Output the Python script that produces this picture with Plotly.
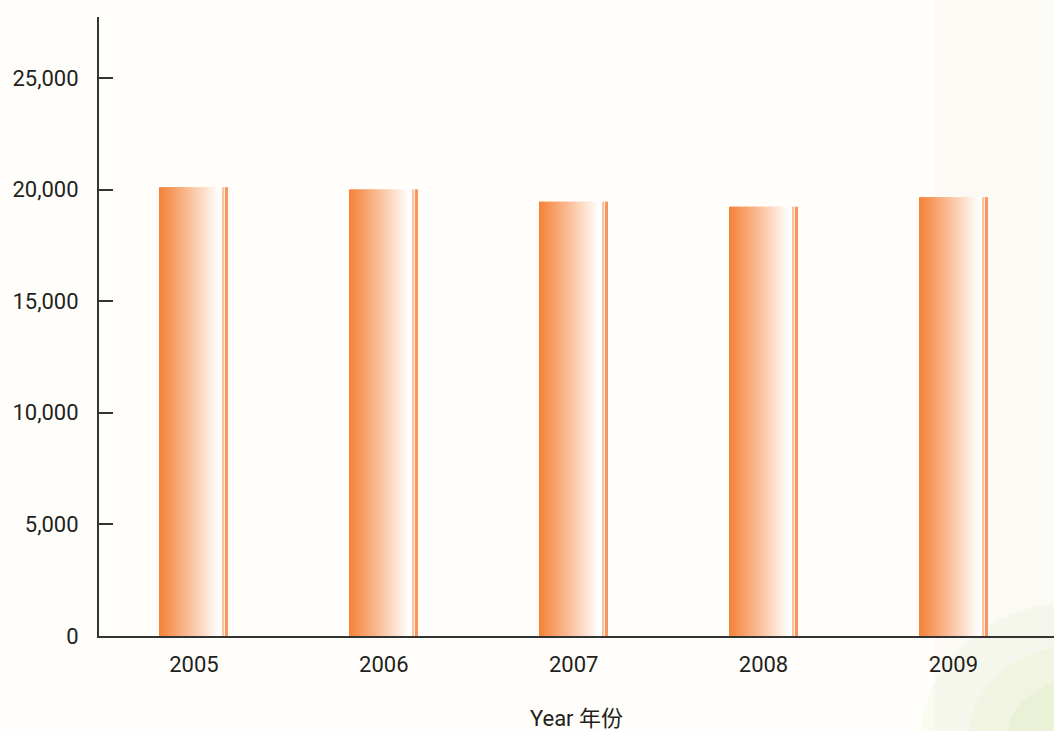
import plotly.graph_objects as go

years = ["2005", "2006", "2007", "2008", "2009"]
values = [20100, 20000, 19450, 19230, 19650]
y_ticks = [0, 5000, 10000, 15000, 20000, 25000]
x_title = "Year 年份"

fig = go.Figure()

# horizontal gradient built from thin strips of the same bar
N = 68
bar_w = 0.358
strip = bar_w / N
orange = (245, 130, 56)
white = (255, 255, 255)


def mix(c1, c2, t):
    return "rgb(%d,%d,%d)" % tuple(round(a + (b - a) * t) for a, b in zip(c1, c2))


for i in range(N):
    t = (i + 0.5) / N
    if t < 0.88:
        col = mix(orange, white, (t / 0.88) ** 1.05)
    elif t < 0.925:
        col = mix(white, white, 0)
    elif t < 0.955:
        col = mix(white, (250, 195, 160), 1)
    elif t < 0.97:
        col = mix(white, (253, 235, 222), 1)
    else:
        col = mix((247, 150, 95), white, 0)
    fig.add_trace(go.Bar(
        x=years, y=values,
        offset=-bar_w / 2 + i * strip,
        width=strip * 1.1,
        marker=dict(color=col, line=dict(width=0)),
        showlegend=False, hoverinfo="skip" if i else "x+y",
    ))

# faint background tint shapes
fig.add_shape(type="rect", xref="paper", yref="paper", x0=0.875, x1=1.0, y0=-0.2, y1=1.05,
              fillcolor="rgba(240,238,228,0.25)", line_width=0, layer="below")
for r, a in [(0.16, 0.10), (0.11, 0.14), (0.07, 0.18)]:
    fig.add_shape(type="circle", xref="paper", yref="paper",
                  x0=1.02 - r, x1=1.02 + r, y0=-0.17 - r * 1.4, y1=-0.17 + r * 1.4,
                  fillcolor="rgba(205,225,165,%.2f)" % a, line_width=0, layer="below")

fig.update_layout(
    width=1054, height=731,
    margin=dict(l=99, r=0, t=17, b=95),
    paper_bgcolor="#FFFEFA",
    plot_bgcolor="rgba(0,0,0,0)",
    barmode="overlay",
    font=dict(family="Roboto, Liberation Sans, Noto Sans CJK SC", size=22, color="#231F20"),
    xaxis=dict(
        type="category", range=[-0.5, 4.53],
        showline=True, linecolor="#333333", linewidth=2,
        ticks="", showgrid=False, zeroline=False,
        tickfont=dict(size=22), ticklabelstandoff=8,
        title=dict(text=x_title, font=dict(size=22), standoff=34),
    ),
    yaxis=dict(
        range=[0, 27730],
        tickvals=y_ticks, tickformat=",d",
        showline=True, linecolor="#333333", linewidth=2,
        ticks="inside", ticklen=14, tickwidth=2, tickcolor="#333333",
        showgrid=False, zeroline=False,
        tickfont=dict(size=22), ticklabelstandoff=14,
    ),
    hovermode="closest",
)

fig.write_html("out.html", config={"displayModeBar": False},
               post_script="document.body.style.margin='0';")
